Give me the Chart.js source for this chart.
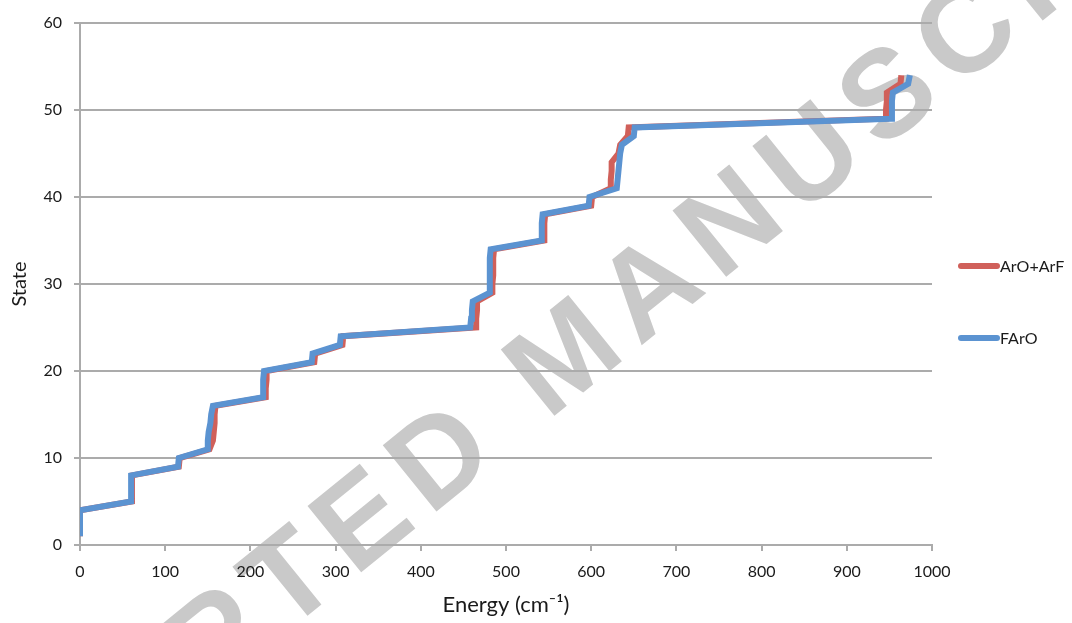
<!DOCTYPE html>
<html><head><meta charset="utf-8">
<script src="https://cdn.jsdelivr.net/npm/chart.js@4/dist/chart.umd.min.js"></script>
<style>html,body{margin:0;padding:0;background:#fff}#wrap{width:1072px;height:623px}</style>
</head><body><div id="wrap"><canvas id="c" width="1072" height="623"></canvas></div>
<script>
const states = [1,2,3,4,5,6,7,8,9,10,11,12,13,14,15,16,17,18,19,20,21,22,23,24,25,26,27,28,29,30,31,32,33,34,35,36,37,38,39,40,41,42,43,44,45,46,47,48,49,50,51,52,53,54];
const energyArOArF = [0,0,0,0, 61,61,61,61, 116,117, 152, 156,157,158,158,159, 218,218,219,219, 275,276, 308,309, 465,465,466,466, 484,484,485,485,485,486, 545,545,545,546, 600,601, 623,623,624,624, 632,634, 643,644, 946,946,947,947, 963,964];
const energyFArO = [0,0,0,0, 60,60,60,60, 115,116, 150, 150,151,153,154,156, 215,215,215,216, 272,273, 305,306, 458,459,460,461, 481,481,481,481,481,482, 542,542,542,543, 597,598, 630,631,632,633,634,636, 650,651, 952,953,953,954, 972,974];
const seriesNames = ['ArO+ArF', 'FArO'];
const xTickValues = [0,100,200,300,400,500,600,700,800,900,1000];
const yTickValues = [0,10,20,30,40,50,60];
const watermarkText = 'ACCEPTED MANUSCRIPT';

const FONT = 'Lato, "Open Sans", sans-serif';
const toPoints = (xs) => xs.map((x, i) => ({x: x, y: states[i]}));

const legendPlugin = {
  id: 'sideLegend',
  afterDraw(chart) {
    const {ctx, chartArea} = chart;
    const mid = (chartArea.top + chartArea.bottom) / 2;
    ctx.save();
    chart.data.datasets.forEach((ds, i) => {
      const y = mid - 18 + i * 72;
      const x0 = chartArea.right + 29;
      ctx.strokeStyle = ds.borderColor;
      ctx.lineWidth = 6;
      ctx.lineCap = 'round';
      ctx.beginPath();
      ctx.moveTo(x0, y);
      ctx.lineTo(x0 + 36, y);
      ctx.stroke();
      ctx.fillStyle = '#1a1a1a';
      ctx.font = '16px ' + FONT;
      ctx.textBaseline = 'middle';
      ctx.textAlign = 'left';
      ctx.fillText(ds.label, x0 + 39, y + 1);
    });
    ctx.restore();
  }
};

const watermarkPlugin = {
  id: 'watermark',
  beforeDraw(chart) {
    const {ctx} = chart;
    ctx.save();
    ctx.font = 'bold 124px "Liberation Sans", Arial, sans-serif';
    try { ctx.letterSpacing = '14px'; } catch (e) {}
    ctx.fillStyle = '#c9c9c9';
    ctx.textAlign = 'left';
    ctx.textBaseline = 'alphabetic';
    const off = ctx.measureText('ACCEPTED ').width + ctx.measureText('M').width / 2;
    ctx.translate(566, 350);
    ctx.rotate(-39 * Math.PI / 180);
    ctx.fillText(watermarkText, -off, 44);
    ctx.restore();
  }
};

new Chart(document.getElementById('c'), {
  type: 'scatter',
  data: {
    datasets: [
      {label: seriesNames[0], data: toPoints(energyArOArF), showLine: true, borderColor: '#d0605a', backgroundColor: '#d0605a', borderWidth: 6, pointRadius: 0, pointHoverRadius: 0, tension: 0, order: 1},
      {label: seriesNames[1], data: toPoints(energyFArO), showLine: true, borderColor: '#5b93d1', backgroundColor: '#5b93d1', borderWidth: 6, pointRadius: 0, pointHoverRadius: 0, tension: 0, order: 0}
    ]
  },
  options: {
    responsive: false,
    animation: false,
    devicePixelRatio: 1,
    layout: {padding: {top: 23, right: 140, left: 0, bottom: 0}},
    plugins: {legend: {display: false}, tooltip: {enabled: false}},
    scales: {
      x: {
        type: 'linear', min: 0, max: 1000,
        afterBuildTicks: (s) => { s.ticks = xTickValues.map(v => ({value: v})); },
        afterFit: (s) => { s.height = 78; },
        ticks: {font: {family: FONT, size: 16}, color: '#1a1a1a', padding: 11, maxRotation: 0, callback: (v) => String(v)},
        grid: {drawOnChartArea: false, drawTicks: true, tickLength: 6, color: '#ababab', lineWidth: 2},
        border: {color: '#ababab', width: 2},
        title: {display: true, text: 'Energy (cm\u207B\u00B9)', font: {family: FONT, size: 22}, color: '#1a1a1a', padding: {top: 0, bottom: 5}}
      },
      y: {
        type: 'linear', min: 0, max: 60,
        afterBuildTicks: (s) => { s.ticks = yTickValues.map(v => ({value: v})); },
        afterFit: (s) => { s.width = 80; },
        ticks: {font: {family: FONT, size: 16}, color: '#1a1a1a', padding: 12, callback: (v) => String(v)},
        grid: {drawTicks: true, tickLength: 6, color: '#ababab', lineWidth: 2},
        border: {color: '#ababab', width: 2},
        title: {display: true, text: 'State', font: {family: FONT, size: 20}, color: '#1a1a1a', padding: {top: 8, bottom: 0}}
      }
    }
  },
  plugins: [legendPlugin, watermarkPlugin]
});
</script>
</body></html>
